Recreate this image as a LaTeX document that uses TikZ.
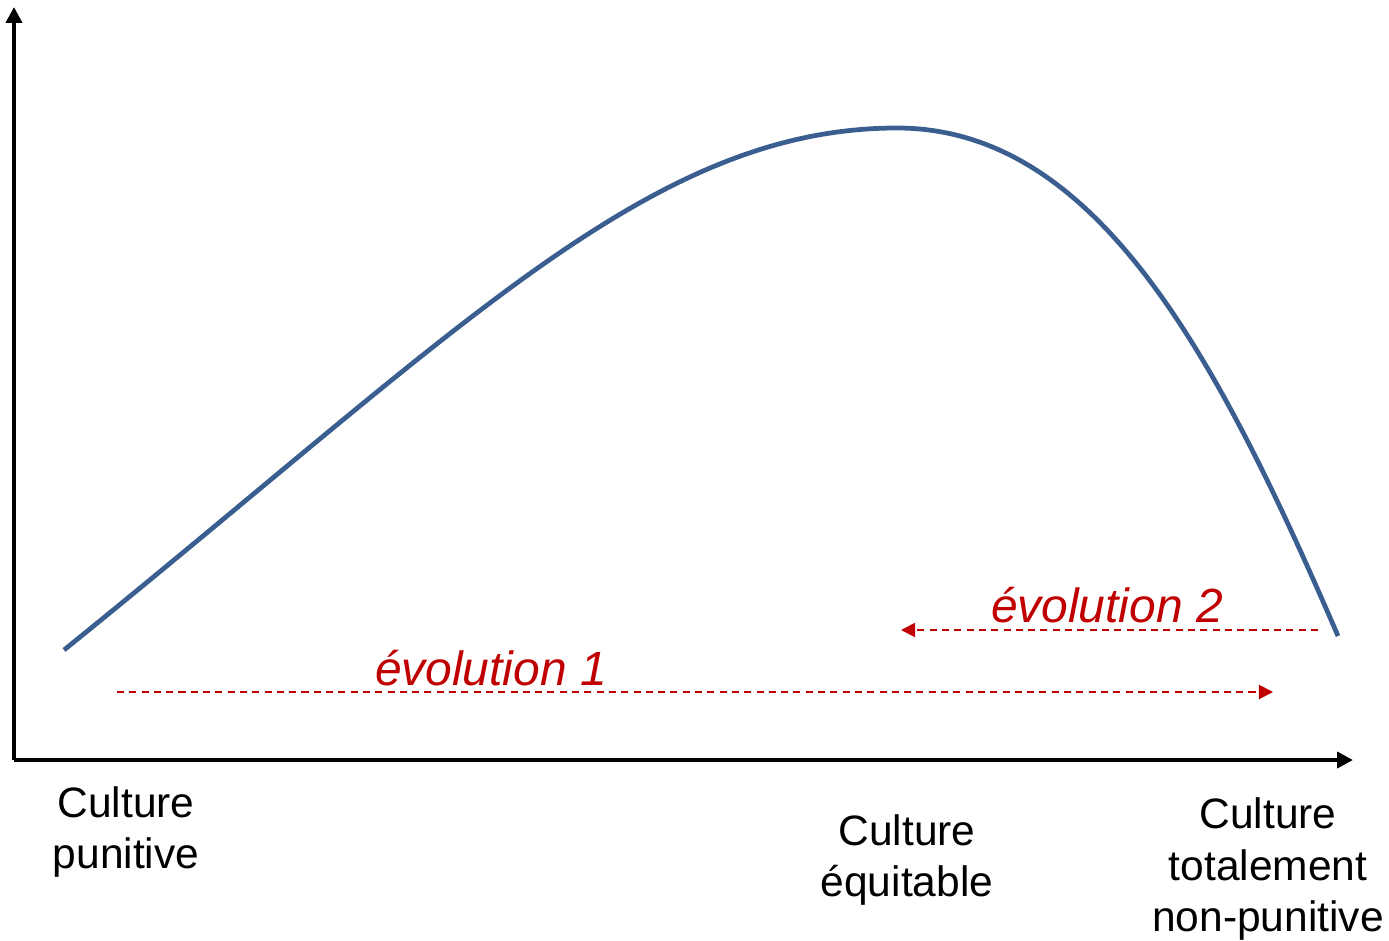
\documentclass[tikz,border=0pt]{standalone}
\usepackage{fontspec}
\setmainfont{Liberation Sans}
\usetikzlibrary{arrows.meta}
\definecolor{curveblue}{RGB}{59,94,145}
\definecolor{evored}{RGB}{192,0,0}
\tikzset{
  axis/.style={line width=2.2pt,-{Triangle[length=9pt,width=9pt]}},
  curve/.style={line width=2.7pt,curveblue},
  evoarrow/.style={line width=1.1pt,evored,dash pattern=on 4pt off 3pt,-{Triangle[length=8pt,width=8pt]}},
  evolabel/.style={font=\fontsize{27.3}{32}\selectfont\itshape,text=evored,anchor=base,inner sep=0pt},
  catlabel/.style={font=\fontsize{24.2}{29.5}\selectfont,align=center,inner sep=0pt}
}
\begin{document}
\begin{tikzpicture}[x=0.02cm,y=-0.02cm]
\useasboundingbox (0,0) rectangle (1389,940);
% axes
\coordinate (O) at (14,760);
\coordinate (ytip) at (14,7);
\coordinate (xtip) at (1353,760);
\draw[axis] (O) -- (ytip);
\draw[axis] (O) -- (xtip);
% curve
\coordinate (c0) at (64,650);
\coordinate (cpeak) at (897,128);
\coordinate (c1) at (1338,636);
\draw[curve] (c0) .. controls (460,330) and (650,128) .. (cpeak)
  .. controls (1097,128) and (1218,358) .. (c1);
% evolution arrows
\coordinate (e2s) at (1318,630);
\coordinate (e2e) at (901,630);
\coordinate (e1s) at (117,692);
\coordinate (e1e) at (1273,692);
\draw[evoarrow] (e2s) -- (e2e);
\draw[evoarrow] (e1s) -- (e1e);
\node[evolabel] (evo2) at (1107,622) {évolution 2};
\node[evolabel] (evo1) at (491,685) {évolution 1};
% category labels
\node[catlabel] (punitive) at (126,832) {Culture\\punitive};
\node[catlabel] (equitable) at (907,860) {Culture\\équitable};
\node[catlabel] (nonpun) at (1268,869) {Culture\\totalement\\non-punitive};
\end{tikzpicture}
\end{document}
